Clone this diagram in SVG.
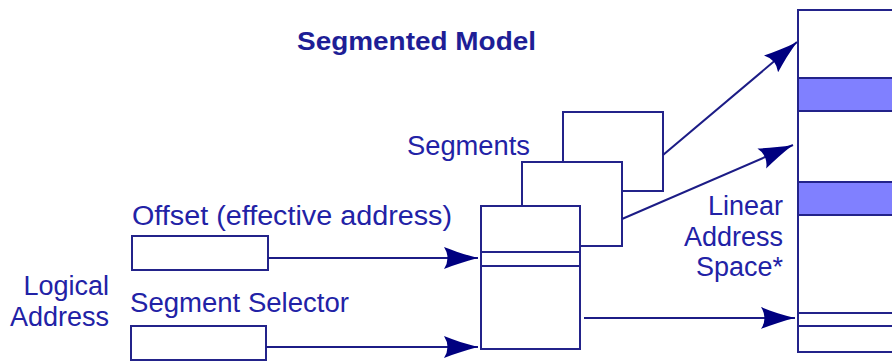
<svg xmlns="http://www.w3.org/2000/svg" width="892" height="361" viewBox="0 0 892 361">
  <style>
    .box { fill: #ffffff; stroke: #23238a; stroke-width: 2; }
    .band { fill: #8080ff; stroke: #23238a; stroke-width: 2; }
    .ln { fill: none; stroke: #23238a; stroke-width: 2; }
    .wire { fill: none; stroke: #1c1c86; stroke-width: 2; marker-end: url(#head); }
    .lbl { font-family: "Liberation Sans", Arial, sans-serif; font-size: 27px; fill: #2222a6; }
    .title { font-family: "Liberation Sans", Arial, sans-serif; font-size: 25px; font-weight: bold; fill: #1e1e96; }
  </style>
  <defs>
    <marker id="head" markerUnits="userSpaceOnUse" markerWidth="36" markerHeight="24" refX="34" refY="11" orient="auto">
      <path d="M0,0 C10,4 22,8 34,11 C22,14 10,18 0,22 Q7,11 0,0 Z" fill="#000080"/>
    </marker>
  </defs>
  <rect width="892" height="361" fill="#ffffff"/>

  <text class="title" x="297" y="50" textLength="239" lengthAdjust="spacingAndGlyphs">Segmented Model</text>

  <!-- linear address space column -->
  <g id="linear-space">
    <rect class="box" x="798" y="10" width="110" height="342"/>
    <rect class="band" x="798" y="78" width="110" height="33"/>
    <rect class="band" x="798" y="182" width="110" height="33"/>
    <line class="ln" x1="798" y1="313" x2="892" y2="313"/>
    <line class="ln" x1="798" y1="326" x2="892" y2="326"/>
  </g>
  <g id="linear-label">
    <text class="lbl" x="783" y="215" text-anchor="end">Linear</text>
    <text class="lbl" x="783" y="246" text-anchor="end">Address</text>
    <text class="lbl" x="783" y="276" text-anchor="end">Space*</text>
  </g>

  <!-- stacked segments -->
  <g id="segment-back">
    <rect class="box" x="563" y="112" width="100" height="79"/>
  </g>
  <g id="segment-middle">
    <rect class="box" x="522" y="162" width="100" height="84"/>
  </g>
  <g id="segment-front">
    <rect class="box" x="481" y="206" width="99" height="143"/>
    <line class="ln" x1="481" y1="252" x2="580" y2="252"/>
    <line class="ln" x1="481" y1="266" x2="580" y2="266"/>
  </g>
  <text class="lbl" x="407" y="155" textLength="123" lengthAdjust="spacingAndGlyphs">Segments</text>

  <!-- logical address fields -->
  <g id="offset">
    <text class="lbl" x="132" y="225" textLength="320" lengthAdjust="spacingAndGlyphs">Offset (effective address)</text>
    <rect class="box" x="132" y="236" width="136" height="34"/>
  </g>
  <g id="selector">
    <text class="lbl" x="130" y="312" textLength="219" lengthAdjust="spacingAndGlyphs">Segment Selector</text>
    <rect class="box" x="131" y="326" width="135" height="34"/>
  </g>
  <g id="logical-label">
    <text class="lbl" x="109" y="295" text-anchor="end">Logical</text>
    <text class="lbl" x="109" y="326" text-anchor="end">Address</text>
  </g>

  <!-- connectors -->
  <g id="connectors">
    <line class="wire" x1="268" y1="258" x2="478" y2="258"/>
    <line class="wire" x1="266" y1="347" x2="478" y2="347"/>
    <line class="wire" x1="584" y1="318" x2="795" y2="318"/>
    <line class="wire" x1="663" y1="155" x2="797" y2="42"/>
    <line class="wire" x1="622" y1="219" x2="793" y2="145"/>
  </g>
</svg>
